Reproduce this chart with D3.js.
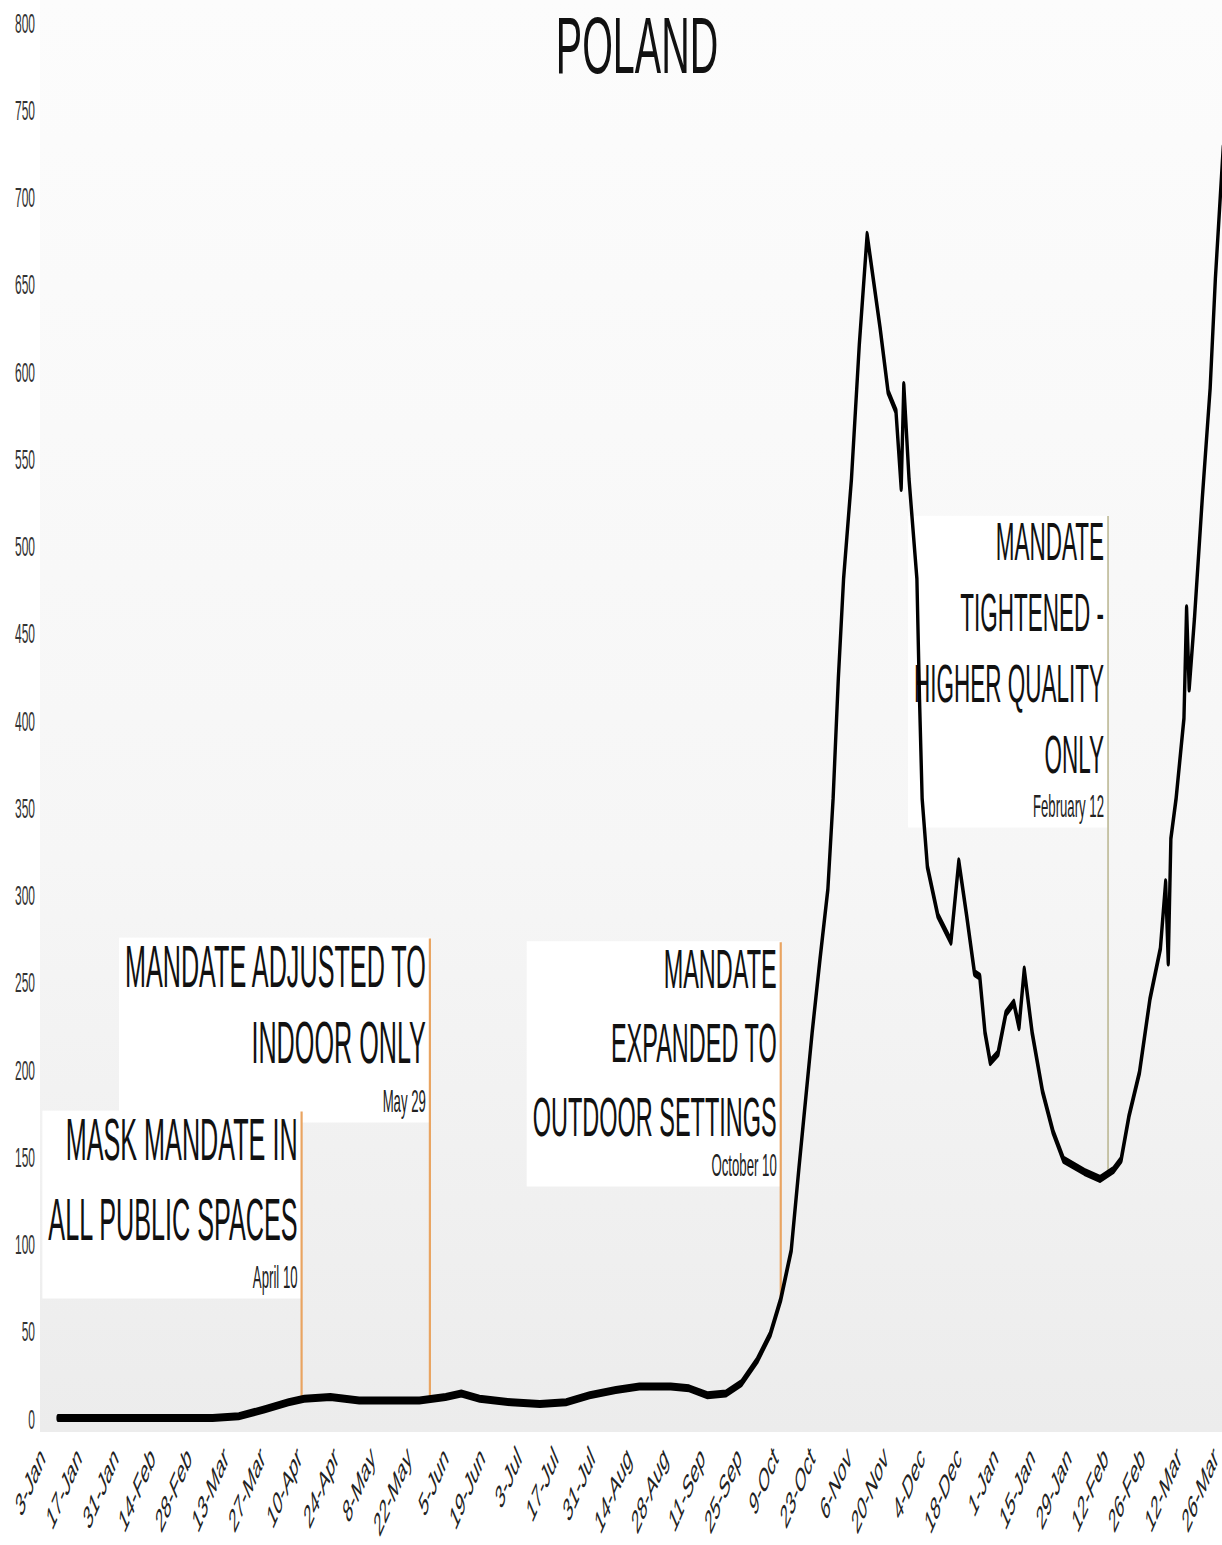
<!DOCTYPE html>
<meta charset="utf-8">
<html>
<script src="https://d3js.org/d3.v7.min.js"></script>
<style>
  body { margin: 0; background: #fff; }
  svg { display: block; font-family: "Liberation Sans", Arial, sans-serif; }
</style>
<body>
<div id="chart"></div>
<script>

    // new cases per million (7 day average)
    const dates = ["2020-01-08","2020-03-07","2020-03-17","2020-03-27","2020-04-05","2020-04-11","2020-04-21",
      "2020-05-02","2020-05-14","2020-05-25","2020-06-04","2020-06-10","2020-06-17","2020-06-29","2020-07-10",
      "2020-07-20","2020-07-29","2020-08-08","2020-08-17","2020-08-29","2020-09-05","2020-09-12","2020-09-19",
      "2020-09-25","2020-10-01","2020-10-06","2020-10-10","2020-10-14","2020-10-17","2020-10-22","2020-10-25",
      "2020-10-28","2020-10-30","2020-11-01","2020-11-03","2020-11-06","2020-11-09","2020-11-12","2020-11-17",
      "2020-11-20","2020-11-23","2020-11-25","2020-11-26","2020-11-28","2020-12-01","2020-12-02","2020-12-03",
      "2020-12-05","2020-12-09","2020-12-14","2020-12-17","2020-12-20","2020-12-23","2020-12-25","2020-12-27",
      "2020-12-29","2021-01-01","2021-01-04","2021-01-07","2021-01-09","2021-01-11","2021-01-14","2021-01-18",
      "2021-01-22","2021-01-26","2021-02-03","2021-02-09","2021-02-14","2021-02-17","2021-02-20","2021-02-24",
      "2021-02-28","2021-03-04","2021-03-06","2021-03-07","2021-03-08","2021-03-10","2021-03-13","2021-03-14",
      "2021-03-15","2021-03-17","2021-03-20","2021-03-23","2021-03-25","2021-03-28"]
    const cases = [0,0,1,5,9,11,12,
      10,10,10,12,14,11,9,8,
      9,13,16,18,18,17,13,14,
      20,33,48,68,96,144,221,263,
      303,355,424,481,538,615,678,624,
      588,577,533,592,538,481,412,355,
      316,288,273,319,288,255,253,221,
      204,209,232,238,224,257,221,187,
      164,148,141,137,142,148,173,198,
      240,269,307,261,332,355,401,464,
      418,458,527,590,653,728]

    const tickDates = ["2020-01-03","2020-01-17","2020-01-31","2020-02-14","2020-02-28","2020-03-13","2020-03-27",
      "2020-04-10","2020-04-24","2020-05-08","2020-05-22","2020-06-05","2020-06-19","2020-07-03","2020-07-17",
      "2020-07-31","2020-08-14","2020-08-28","2020-09-11","2020-09-25","2020-10-09","2020-10-23","2020-11-06",
      "2020-11-20","2020-12-04","2020-12-18","2021-01-01","2021-01-15","2021-01-29","2021-02-12","2021-02-26",
      "2021-03-12","2021-03-26"]
    const yTicks = [0,50,100,150,200,250,300,350,400,450,500,550,600,650,700,750,800]

    const mandateDates = ["2020-04-10","2020-05-29","2020-10-10","2021-02-12"]
    const mandateText = [
      ["MASK MANDATE IN","ALL PUBLIC SPACES"],
      ["MANDATE ADJUSTED TO","INDOOR ONLY"],
      ["MANDATE","EXPANDED TO","OUTDOOR SETTINGS"],
      ["MANDATE","TIGHTENED -","HIGHER QUALITY","ONLY"]
    ]
    const mandateLabels = ["April 10","May 29","October 10","February 12"]

    // where each note block sits (first baseline, line step, gap to the date, font size)
    const noteLayout = [
      {top: 1160, step: 80, gap: 48, fs: 25.2, color: "#e9a461"},
      {top: 987, step: 76, gap: 49, fs: 25.2, color: "#e9a461"},
      {top: 988, step: 74, gap: 40, fs: 23.5, color: "#e9a461"},
      {top: 560, step: 71, gap: 44, fs: 22.5, color: "#b8b48e"}
    ]

    const width = 1222, height = 1545
    const SY = 2.36   // the whole chart is stretched vertically

    const parse = d3.utcParse("%Y-%m-%d")
    const data = dates.map((d, i) => ({date: parse(d), value: cases[i]}))

    const x = d3.scaleUtc()
      .domain([parse("2020-01-03"), parse("2021-03-26")])
      .range([45, 1218])
    const y = d3.scaleLinear()
      .domain([0, 800])
      .range([1418, 22])

    const svg = d3.select("#chart")
      .append("svg")
        .attr("width", width)
        .attr("height", height)

    // faint grey plot background, darker near the bottom
    const grad = svg.append("defs").append("linearGradient")
      .attr("id", "bg").attr("x1", 0).attr("x2", 0).attr("y1", 0).attr("y2", 1)
    grad.append("stop").attr("offset", "0%").attr("stop-color", "#fcfcfc")
    grad.append("stop").attr("offset", "60%").attr("stop-color", "#f6f6f6")
    grad.append("stop").attr("offset", "100%").attr("stop-color", "#ececec")
    svg.append("rect")
      .attr("x", 40).attr("y", 0).attr("width", width - 40).attr("height", 1432)
      .attr("fill", "url(#bg)")

    // layers so the white note boxes never cover another note's text
    const boxLayer = svg.append("g")
    const ruleLayer = svg.append("g")
    const textLayer = svg.append("g")

    // title
    svg.append("text")
      .attr("transform", `translate(637,73) scale(1,2.04)`)
      .attr("text-anchor", "middle")
      .style("font-size", "39.5px")
      .attr("fill", "#111")
      .text("POLAND")

    // y axis
    const yAxis = svg.append("g")
      .attr("transform", "translate(35,0)")
      .call(d3.axisLeft(y).tickValues(yTicks).tickSize(0))
    yAxis.select(".domain").remove()
    yAxis.selectAll("text")
      .attr("x", 0)
      .attr("dy", "0.36em")
      .attr("transform", `scale(1,${SY})`)
      .attr("fill", "#333")
      .style("font-size", "12px")

    // x axis
    const xAxis = svg.append("g")
      .attr("transform", "translate(0,1452)")
      .call(d3.axisBottom(x).tickValues(tickDates.map(parse)).tickFormat(d3.utcFormat("%-d-%b")).tickSize(0))
    xAxis.select(".domain").remove()
    xAxis.selectAll("text")
      .attr("x", 0)
      .attr("y", 0)
      .attr("dy", "0.35em")
      .attr("text-anchor", "end")
      .attr("transform", `translate(-3,0) scale(1,${SY}) rotate(-45)`)
      .attr("fill", "#222")
      .style("font-size", "14px")

    // value of the line on a given day, for the foot of the note lines
    const bis = d3.bisector(d => d.date).left
    function valueAt(date) {
      const i = bis(data, date)
      if (i <= 0) return data[0].value
      if (i >= data.length) return data[data.length - 1].value
      const a = data[i - 1], b = data[i]
      const t = (date - a.date) / (b.date - a.date)
      return a.value + t * (b.value - a.value)
    }

    // mandate notes
    mandateDates.forEach(function(ds, i) {
      const L = noteLayout[i]
      const d = parse(ds)
      const xl = x(d)
      const g = textLayer.append("g")
      const lines = mandateText[i]
      lines.forEach(function(t, j) {
        g.append("text")
          .attr("transform", `translate(${xl - 4},${L.top + j * L.step}) scale(1,${SY})`)
          .attr("text-anchor", "end")
          .attr("fill", "#111")
          .style("font-size", L.fs + "px")
          .text(t)
      })
      g.append("text")
        .attr("transform", `translate(${xl - 4},${L.top + (lines.length - 1) * L.step + L.gap}) scale(1,${SY})`)
        .attr("text-anchor", "end")
        .attr("fill", "#222")
        .style("font-size", "13.2px")
        .text(mandateLabels[i])

      const bb = g.node().getBBox()
      boxLayer.append("rect")
        .attr("x", bb.x - 6)
        .attr("y", bb.y + 4)
        .attr("width", xl - bb.x + 6)
        .attr("height", bb.height)
        .attr("fill", "#ffffff")

      ruleLayer.append("line")
        .attr("x1", xl).attr("x2", xl)
        .attr("y1", L.top - L.fs * 0.716 * SY - 6)
        .attr("y2", y(valueAt(d)))
        .attr("stroke", L.color)
        .attr("stroke-width", i == 3 ? 1.5 : 2.2)
    })

    // the case line, drawn in unstretched space so thickness behaves like the picture
    const line = d3.line()
      .x(d => x(d.date))
      .y(d => y(d.value) / SY)

    svg.append("g")
      .attr("transform", `scale(1,${SY})`)
      .append("path")
        .datum(data)
        .attr("d", line)
        .attr("fill", "none")
        .attr("stroke", "#000")
        .attr("stroke-width", 3.4)
        .attr("stroke-linejoin", "round")
        .attr("stroke-linecap", "round")

</script>
</body>
</html>
